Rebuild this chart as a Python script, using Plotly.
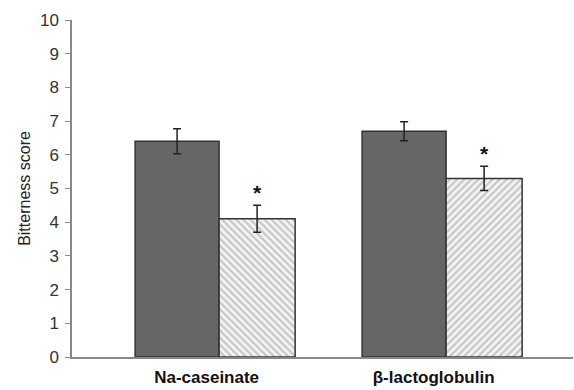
import plotly.graph_objects as go

categories = ["Na-caseinate", "β-lactoglobulin"]
control_vals = [6.4, 6.7]
control_err = [0.37, 0.28]
treated_vals = [4.1, 5.3]
treated_err = [0.4, 0.36]
y_ticks = list(range(0, 11))

x_idx = list(range(len(categories)))

fig = go.Figure()
fig.add_trace(go.Bar(
    x=x_idx, y=control_vals, width=0.37, offset=-0.37,
    marker=dict(color="#666666", line=dict(color="#333333", width=1.5)),
    error_y=dict(type="data", array=control_err, color="#222222", thickness=1.5, width=4),
    showlegend=False,
))
fig.add_trace(go.Bar(
    x=x_idx, y=treated_vals, width=0.335, offset=0.0,
    marker=dict(color="white", line=dict(color="#333333", width=1.5),
                pattern=dict(shape=["\\", "/"], fgcolor="#9a9a9a", bgcolor="#f4f4f4", size=5, solidity=0.45)),
    error_y=dict(type="data", array=treated_err, color="#222222", thickness=1.5, width=4),
    showlegend=False,
))
# significance stars
fig.add_trace(go.Scatter(
    x=[i + 0.1675 for i in x_idx],
    y=[v + e + 0.3 for v, e in zip(treated_vals, treated_err)],
    mode="text", text=["<b>*</b>"] * len(categories),
    textfont=dict(family="Arial", size=21, color="#111111"),
    showlegend=False, hoverinfo="skip",
))

fig.update_layout(
    width=574, height=390,
    margin=dict(l=72, r=1, t=20, b=33),
    plot_bgcolor="white", paper_bgcolor="white",
    barmode="overlay",
    font=dict(family="Arial", color="#333333"),
)
fig.update_xaxes(
    range=[-0.648, 1.559],
    tickvals=[i - 0.055 for i in x_idx],
    ticktext=["<b>%s</b>" % c for c in categories],
    tickfont=dict(family="Arial", size=17, color="#111111"),
    ticklabelstandoff=4,
    showline=True, linecolor="#888888", linewidth=1.5,
    ticks="", showgrid=False, zeroline=False,
)
fig.update_yaxes(
    range=[0, 10], tickvals=y_ticks,
    tickfont=dict(family="Arial", size=17, color="#333333"),
    ticks="outside", ticklen=5, tickcolor="#888888",
    ticklabelstandoff=3,
    showline=True, linecolor="#888888", linewidth=1.5,
    showgrid=False, zeroline=False,
    title=dict(text="Bitterness score", font=dict(family="Arial", size=16, color="#222222"), standoff=5),
)
fig.write_html("out.html")
